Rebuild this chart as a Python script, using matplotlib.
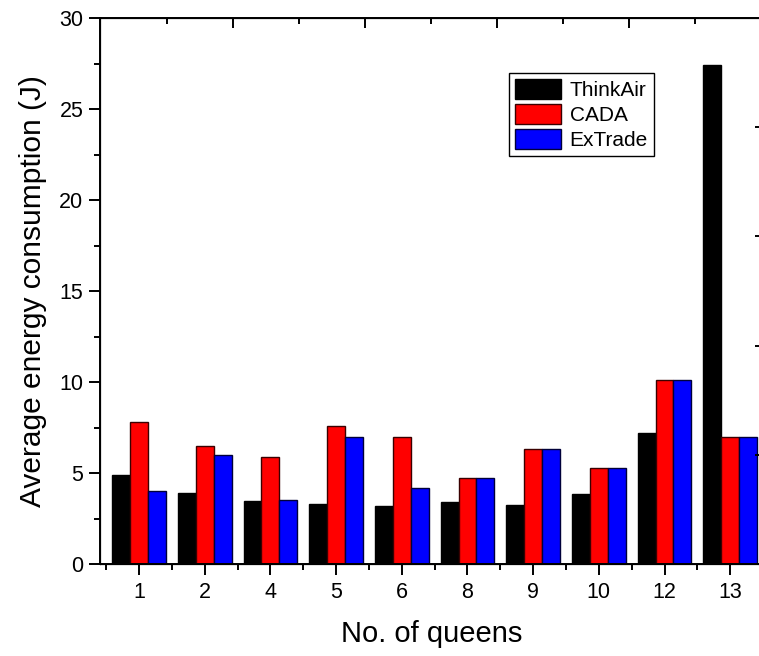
import matplotlib.pyplot as plt
import numpy as np

queens = ['1', '2', '4', '5', '6', '8', '9', '10', '12', '13']
thinkair = [4.9, 3.88, 3.47, 3.3, 3.2, 3.4, 3.27, 3.84, 7.2, 27.4]
cada = [7.82, 6.5, 5.9, 7.6, 7.0, 4.7, 6.3, 5.3, 10.1, 7.0]
extrade = [4.0, 6.0, 3.5, 7.0, 4.2, 4.7, 6.3, 5.3, 10.1, 7.0]

plt.rcParams['font.family'] = ['Liberation Sans', 'DejaVu Sans']

fig = plt.figure(figsize=(7.59, 6.56), dpi=100)
# right spine lies just outside the picture, as in the original
ax = fig.add_axes([0.1318, 0.1402, 0.8735, 0.8323])

x = np.arange(len(queens))
w = 0.273
ax.bar(x - w, thinkair, w, color='black', edgecolor='black', linewidth=1, label='ThinkAir')
ax.bar(x, cada, w, color='#ff0000', edgecolor='#3a0000', linewidth=1, label='CADA')
ax.bar(x + w, extrade, w, color='#0000ff', edgecolor='#00003a', linewidth=1, label='ExTrade')

ax.set_xlim(-0.595, 9.45)
ax.set_ylim(0, 30)
ax.set_xticks(x)
ax.set_xticklabels(queens)
ax.set_xticks(np.r_[-0.5, x + 0.5], minor=True)
ax.set_yticks(np.arange(0, 31, 5))
ax.set_yticks(np.arange(2.5, 30, 5), minor=True)
ax.tick_params(axis='both', which='major', length=8, width=1.4, labelsize=15.5, direction='out')
ax.tick_params(axis='both', which='minor', length=4.3, width=1.4, direction='out')
ax.tick_params(axis='x', pad=5)
ax.tick_params(axis='y', pad=4)

for s in ax.spines.values():
    s.set_linewidth(1.4)

# top axis ticks
ax2 = ax.twiny()
ax2.set_xlim(ax.get_xlim())
ax2.set_xticks([1.43, 3.44, 5.45, 7.46])
ax2.set_xticks([0.42, 2.43, 4.44, 6.45, 8.46], minor=True)
ax2.tick_params(axis='x', which='major', direction='in', length=7, width=1.4, labeltop=False)
ax2.tick_params(axis='x', which='minor', direction='in', length=4, width=1.4)

# right axis ticks
ax3 = ax.twinx()
ax3.set_ylim(0, 30)
ax3.set_yticks([6, 12, 18, 24])
ax3.tick_params(axis='y', direction='in', length=6, width=1.4, labelright=False)

ax.set_xlabel('No. of queens', fontsize=21, labelpad=12)
ax.set_ylabel('Average energy consumption (J)', fontsize=21.5, labelpad=9)

leg = ax.legend(loc='upper left', bbox_to_anchor=(0.617, 0.899), fontsize=15,
                frameon=True, fancybox=False, edgecolor='black', framealpha=1,
                handlelength=2.2, handleheight=1.05, labelspacing=0.2,
                borderpad=0.3, handletextpad=0.4, borderaxespad=0)
leg.get_frame().set_linewidth(1)

fig.savefig('out.png', dpi=100)
